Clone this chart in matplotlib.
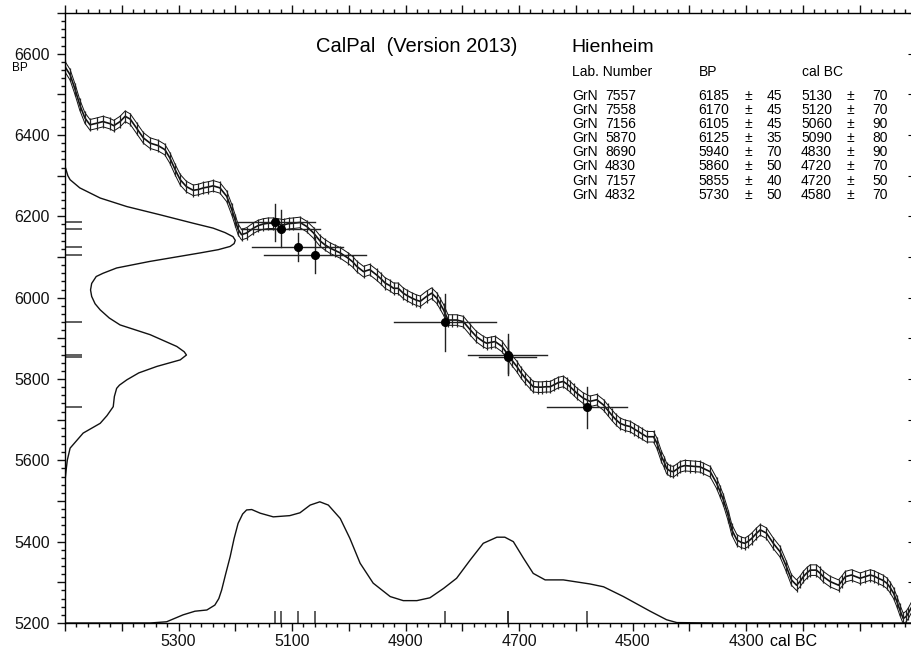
"""
CalPal (Version 2013) - Hienheim: calibration curve with 14C dates,
summed BP probability (left) and summed calBC probability (bottom).
"""

import numpy as np
import matplotlib
matplotlib.use('Agg')
import matplotlib.pyplot as plt
from matplotlib.ticker import MultipleLocator, FuncFormatter

plt.rcParams['font.family'] = ['Liberation Sans', 'DejaVu Sans']

# --- calibration curve (cal BC, BP) ---
curve_cal = [5500, 5491, 5482, 5474, 5465, 5456, 5444, 5433, 5421, 5414,
             5403, 5394, 5385, 5374, 5362, 5350, 5336, 5324, 5315, 5306,
             5297, 5286, 5274, 5265, 5256, 5248, 5239, 5227, 5215, 5206,
             5200, 5195, 5189, 5180, 5168, 5160, 5151, 5142, 5133, 5124,
             5115, 5106, 5098, 5086, 5074, 5062, 5051, 5042, 5033, 5024,
             5015, 5001, 4993, 4986, 4974, 4963, 4951, 4943, 4936, 4928,
             4921, 4913, 4904, 4897, 4889, 4881, 4874, 4863, 4854, 4845,
             4839, 4833, 4825, 4818, 4810, 4798, 4786, 4775, 4763, 4757,
             4750, 4742, 4730, 4719, 4712, 4704, 4697, 4689, 4681, 4675,
             4667, 4660, 4652, 4645, 4638, 4631, 4622, 4616, 4610, 4604,
             4598, 4587, 4575, 4563, 4551, 4544, 4537, 4530, 4522, 4513,
             4504, 4497, 4490, 4483, 4475, 4463, 4457, 4449, 4444, 4440,
             4434, 4428, 4422, 4416, 4408, 4399, 4390, 4381, 4375, 4363,
             4352, 4346, 4340, 4331, 4325, 4316, 4308, 4302, 4296, 4290,
             4282, 4275, 4264, 4252, 4240, 4229, 4220, 4211, 4205, 4199,
             4193, 4187, 4176, 4170, 4164, 4152, 4137, 4131, 4125, 4114,
             4099, 4090, 4081, 4074, 4067, 4059, 4052, 4046, 4040, 4034,
             4029, 4023, 4018, 4014, 4008, 4002]
curve_bp = [6568, 6548, 6511, 6474, 6442, 6425, 6429, 6433, 6428, 6423,
            6433, 6446, 6439, 6417, 6393, 6380, 6374, 6364, 6343, 6315,
            6290, 6273, 6264, 6266, 6270, 6272, 6275, 6270, 6249, 6216,
            6190, 6168, 6155, 6159, 6171, 6177, 6181, 6183, 6183, 6181,
            6179, 6182, 6183, 6185, 6175, 6159, 6140, 6130, 6122, 6116,
            6110, 6097, 6088, 6077, 6064, 6069, 6056, 6046, 6036, 6030,
            6023, 6023, 6011, 6005, 5999, 5994, 5991, 6003, 6011, 5999,
            5985, 5970, 5945, 5945, 5945, 5941, 5921, 5904, 5892, 5888,
            5890, 5892, 5880, 5859, 5845, 5831, 5816, 5802, 5790, 5781,
            5780, 5780, 5781, 5781, 5786, 5791, 5794, 5788, 5781, 5773,
            5765, 5753, 5745, 5749, 5736, 5724, 5712, 5701, 5691, 5686,
            5683, 5677, 5671, 5665, 5658, 5658, 5642, 5609, 5595, 5580,
            5574, 5572, 5578, 5584, 5587, 5586, 5585, 5584, 5580, 5572,
            5544, 5524, 5503, 5462, 5429, 5404, 5398, 5396, 5401, 5408,
            5420, 5429, 5421, 5396, 5375, 5339, 5306, 5293, 5302, 5314,
            5323, 5330, 5330, 5323, 5314, 5302, 5293, 5303, 5314, 5318,
            5310, 5314, 5318, 5315, 5310, 5305, 5298, 5287, 5273, 5252,
            5232, 5211, 5216, 5224, 5240, 5255]
curve_band = 13   # envelope half width (BP)
curve_bar = 16    # error bar half height (BP)

# --- 14C dates ---
lab_prefix = ['GrN'] * 8
lab_num = ['7557', '7558', '7156', '5870', '8690', '4830', '7157', '4832']
date_bp = [6185, 6170, 6105, 6125, 5940, 5860, 5855, 5730]
date_bp_err = [45, 45, 45, 35, 70, 50, 40, 50]
date_cal = [5130, 5120, 5060, 5090, 4830, 4720, 4720, 4580]
date_cal_err = [70, 70, 90, 80, 90, 70, 50, 70]

# --- summed BP probability (left), width in cal years from the axis ---
sum_bp = [6323, 6300, 6290, 6270, 6245, 6224, 6204, 6183, 6171, 6160,
          6150, 6141, 6133, 6126, 6118, 6110, 6089, 6073, 6060, 6052,
          6035, 6019, 6003, 5985, 5970, 5950, 5933, 5909, 5880, 5867,
          5859, 5847, 5831, 5815, 5798, 5785, 5777, 5757, 5732, 5710,
          5691, 5667, 5630, 5600, 5576, 5550]
sum_bp_w = [0, 5, 9, 26, 62, 109, 167, 226, 261, 282,
            296, 300, 298, 291, 270, 238, 149, 91, 67, 55,
            47, 45, 47, 53, 62, 78, 97, 150, 197, 210,
            214, 203, 162, 130, 109, 96, 91, 87, 85, 74,
            62, 32, 9, 4, 2, 0]

# --- summed calBC probability (bottom), height in BP above 5200 ---
sum_cal = [5500, 5350, 5321, 5292, 5271, 5250, 5236, 5229, 5224, 5217,
           5209, 5202, 5195, 5187, 5180, 5171, 5156, 5133, 5104, 5086,
           5068, 5051, 5036, 5015, 4998, 4980, 4957, 4927, 4904, 4880,
           4857, 4833, 4810, 4786, 4763, 4739, 4725, 4710, 4692, 4675,
           4654, 4622, 4575, 4551, 4516, 4469, 4440, 4422, 4352, 4000]
sum_cal_h = [0, 0, 3, 20, 29, 32, 44, 60, 81, 120,
             163, 208, 245, 268, 278, 279, 270, 261, 264, 271,
             290, 298, 290, 257, 208, 147, 98, 65, 55, 55,
             62, 85, 110, 155, 196, 211, 211, 200, 159, 122,
             106, 106, 96, 89, 65, 29, 8, 1, 0, 0]

X_LEFT, X_RIGHT = 5500, 4000
Y_BOT, Y_TOP = 5200, 6700
W, H = 912, 652

fig = plt.figure(figsize=(W / 100, H / 100), dpi=100)
ax = fig.add_axes([65 / W, 1 - 623 / H, (916.3 - 65) / W, 610 / H])
ax.set_xlim(X_LEFT, X_RIGHT)
ax.set_ylim(Y_BOT, Y_TOP)

ink = '#111111'

# calibration curve: centre, envelope and error bars
cc = np.array(curve_cal)
cb = np.array(curve_bp)
ax.plot(cc, cb, color=ink, lw=1.2)
ax.plot(cc, cb + curve_band, color=ink, lw=0.7)
ax.plot(cc, cb - curve_band, color=ink, lw=0.7)
ax.vlines(cc, cb - curve_bar, cb + curve_bar, color='#222222', lw=0.9)

# summed probabilities
ax.plot(X_LEFT - np.array(sum_bp_w), sum_bp, color=ink, lw=1.0)
ax.plot(sum_cal, Y_BOT + np.array(sum_cal_h), color=ink, lw=1.0)

# date markers on the axes
ax.hlines(date_bp, X_LEFT, X_LEFT - 30, color='#333333', lw=1.1)
ax.vlines(date_cal, Y_BOT, Y_BOT + 29, color='#333333', lw=1.1)

# dates with error crosses
for c, ce, b, be in zip(date_cal, date_cal_err, date_bp, date_bp_err):
    ax.plot([c - ce, c + ce], [b, b], color='#222222', lw=1.0)
    ax.plot([c, c], [b - be, b + be], color='#222222', lw=1.0)
ax.plot(date_cal, date_bp, 'o', color='black', markersize=5.5, zorder=5)

# axes / ticks
for s in ax.spines.values():
    s.set_linewidth(1.0)
ax.xaxis.set_major_locator(MultipleLocator(100))
ax.xaxis.set_minor_locator(MultipleLocator(20))
ax.yaxis.set_major_locator(MultipleLocator(100))
ax.yaxis.set_minor_locator(MultipleLocator(20))
ax.xaxis.set_major_formatter(FuncFormatter(
    lambda v, p: f'{v:.0f}' if 4300 <= v <= 5300 and (v - 4300) % 200 == 0 else ''))
ax.yaxis.set_major_formatter(FuncFormatter(
    lambda v, p: f'{v:.0f}' if (v - 5200) % 200 == 0 and v <= 6600 else ''))
ax.tick_params(which='both', direction='out', top=True, bottom=True,
               left=True, right=False, width=1.0, colors=ink)
ax.tick_params(which='major', length=6, labelsize=12, pad=5)
ax.tick_params(which='minor', length=3)
ax.tick_params(axis='x', which='major', labelsize=11.5, pad=2)
ax.tick_params(axis='y', which='major', labelsize=11.5)

right = ax.secondary_yaxis('right')
right.yaxis.set_major_locator(MultipleLocator(100))
right.tick_params(direction='in', length=6, labelright=False)


def fpos(x, y):
    return x / W, 1 - y / H


fig.text(*fpos(770, 641), 'cal BC', fontsize=11.5, va='center')
fig.text(*fpos(12, 68), 'BP', fontsize=8.5, va='center')

# titles and table
fig.text(*fpos(417, 47), 'CalPal  (Version 2013)', fontsize=14.5,
         ha='center', va='center')
fig.text(*fpos(571, 47), 'Hienheim', fontsize=14, va='center')
fig.text(*fpos(572, 72), 'Lab. Number', fontsize=10, va='center')
fig.text(*fpos(699, 72), 'BP', fontsize=10, va='center')
fig.text(*fpos(802, 72), 'cal BC', fontsize=10, va='center')

for i in range(len(lab_num)):
    y = 96 + 14.1 * i
    fig.text(*fpos(572, y), lab_prefix[i], fontsize=10, va='center')
    fig.text(*fpos(605, y), lab_num[i], fontsize=10, va='center')
    fig.text(*fpos(698, y), f'{date_bp[i]}', fontsize=10, va='center')
    fig.text(*fpos(748, y), '±', fontsize=10, va='center', ha='center')
    fig.text(*fpos(782, y), f'{date_bp_err[i]}', fontsize=10, va='center', ha='right')
    fig.text(*fpos(801, y), f'{date_cal[i]}', fontsize=10, va='center')
    fig.text(*fpos(850, y), '±', fontsize=10, va='center', ha='center')
    fig.text(*fpos(888, y), f'{date_cal_err[i]}', fontsize=10, va='center', ha='right')

fig.savefig('out.png', dpi=100)
